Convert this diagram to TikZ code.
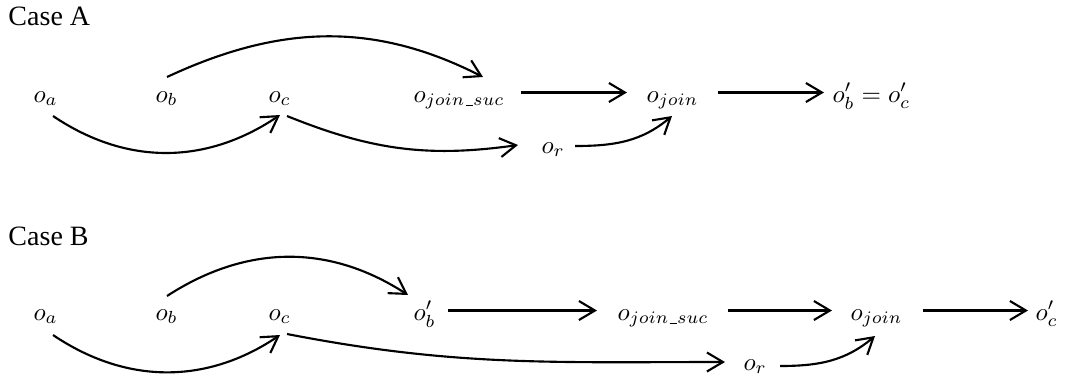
\documentclass[tikz,border=0pt]{standalone}
\usepackage{fontspec}
\newfontfamily\casefont{Liberation Serif}
\usetikzlibrary{arrows.meta}
% short underscore for subscripts
\newcommand\usc{\kern.06em\vbox{\hrule width.3em}}
\begin{document}
\begin{tikzpicture}[x=0.4pt,y=0.4pt,
  obj/.style={anchor=base west, inner sep=0pt, text height=7.6pt, text depth=0pt},
  ar/.style={-{Straight Barb[length=6.4pt,width=7.6pt]}, line width=0.85pt},
  lbl/.style={anchor=base west, inner sep=0pt, font=\casefont\fontsize{11.2}{13}\selectfont}]
\useasboundingbox (0,0) rectangle (1065,-381);

% ---------- Case A ----------
\node[lbl] (caseA) at (8,-25) {Case A};
\node[obj] (Aa)   at (33,-102)  {$o_a$};
\node[obj] (Ab)   at (155,-102) {$o_b$};
\node[obj] (Ac)   at (268,-102) {$o_c$};
\node[obj] (Ajs)  at (413,-102) {$o_{join\usc suc}$};
\node[obj] (Aj)   at (646,-102) {$o_{join}$};
\node[obj] (Abc)  at (832,-102) {$o'_b = o'_c$};
\node[obj] (Ar)   at (541,-153) {$o_r$};

\draw[ar, shorten <=6.2pt, shorten >=7.6pt] (Ajs.east) -- (Aj.west);
\draw[ar, shorten <=7.6pt, shorten >=3.2pt] (Aj.east) -- (Abc.west);
\draw[ar] ([shift={(20,-14)}]Aa.base west) to[out=-34,in=-146] ([shift={(12,-13)}]Ac.base west);
\draw[ar] ([shift={(12,25)}]Ab.base west) to[out=25,in=153] ([shift={(70,25)}]Ajs.base west);
\draw[ar] ([shift={(19,-14)}]Ac.base west) to[out=-22,in=-172] ([shift={(-23,8)}]Ar.base west);
\draw[ar] ([shift={(34,7)}]Ar.base west) to[out=0,in=-140] ([shift={(26,-14)}]Aj.base west);

% ---------- Case B ----------
\node[lbl] (caseB) at (8,-245) {Case B};
\node[obj] (Ba)   at (33,-320)  {$o_a$};
\node[obj] (Bb)   at (155,-320) {$o_b$};
\node[obj] (Bc)   at (268,-320) {$o_c$};
\node[obj] (Bbp)  at (413,-320) {$o'_b$};
\node[obj] (Bjs)  at (617,-320) {$o_{join\usc suc}$};
\node[obj] (Bj)   at (850,-320) {$o_{join}$};
\node[obj] (Bcp)  at (1035,-320) {$o'_c$};
\node[obj] (Br)   at (743,-370) {$o_r$};

\draw[ar, shorten <=4.8pt, shorten >=8pt] (Bbp.east) -- (Bjs.west);
\draw[ar, shorten <=7.4pt, shorten >=7.2pt] (Bjs.east) -- (Bj.west);
\draw[ar, shorten <=8pt, shorten >=2.8pt] (Bj.east) -- (Bcp.west);
\draw[ar] ([shift={(20,-15)}]Ba.base west) to[out=-34,in=-146] ([shift={(12,-15)}]Bc.base west);
\draw[ar] ([shift={(12,24)}]Bb.base west) to[out=33,in=147] ([shift={(-5,25)}]Bbp.base west);
\draw[ar] ([shift={(19,-14)}]Bc.base west) to[out=-11,in=180] ([shift={(-18,8)}]Br.base west);
\draw[ar] ([shift={(37,4)}]Br.base west) to[out=0,in=-140] ([shift={(25,-16)}]Bj.base west);
\end{tikzpicture}
\end{document}
